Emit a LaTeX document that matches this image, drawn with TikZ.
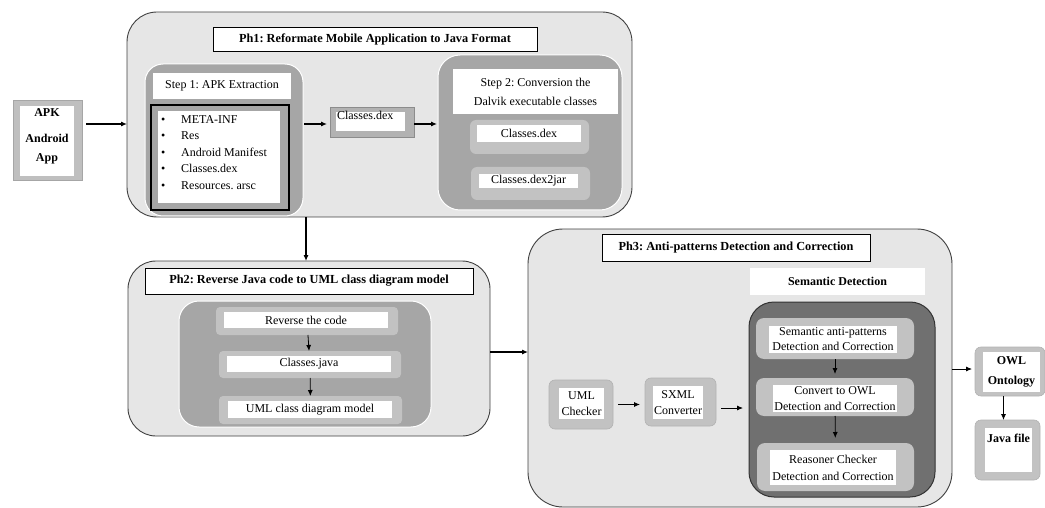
\documentclass[tikz,border=0pt]{standalone}
\usepackage{fontspec}
\setmainfont{Liberation Serif}
\frenchspacing
\usetikzlibrary{arrows.meta}
\definecolor{phgray}{HTML}{E6E6E6}
\definecolor{midgray}{HTML}{A6A6A6}
\definecolor{lightg}{HTML}{C2C2C2}
\definecolor{darkg}{HTML}{707070}
\newcommand\mkbox[7]{\node[#2, minimum width={(#5-#3)*1pt}, minimum height={(#6-#4)*1pt}] (#1) at ({(#3+#5)/2},{(#4+#6)/2}) {#7};}
\tikzset{
  every node/.style={inner sep=0pt, outer sep=0pt},
  phbox/.style={draw=black!75, fill=phgray, line width=0.9pt, rounded corners=30pt},
  stepbox/.style={draw=white, fill=midgray, line width=1pt, rounded corners=18pt},
  wbox/.style={fill=white, draw=none, align=center, font=\fontsize{12}{14}\selectfont},
  titlebox/.style={fill=white, draw=black, line width=0.8pt, font=\bfseries\fontsize{12.3}{14}\selectfont},
  lbox/.style={fill=lightg, draw=none, rounded corners=6pt},
  gbox/.style={fill=lightg, draw=black!30, line width=0.6pt, rounded corners=6pt},
  arr/.style={-{Latex[length=6pt,width=5pt]}, line width=1.1pt},
}
\begin{document}
\begin{tikzpicture}[x=1pt,y=-1pt]
\useasboundingbox (0,0) rectangle (1045,508);
% APK
\mkbox{apko}{fill=black!25, draw=black!35, line width=0.8pt}{13}{100}{82}{180}{}
\mkbox{apki}{fill=white}{20}{106}{74}{176}{}
\node[align=center, font=\bfseries\fontsize{12}{19}\selectfont] (apkt) at (47,136.5) {APK\\[7pt]Android\\App};
% Ph1
\mkbox{ph1}{phbox}{127}{12}{632}{217}{}
\mkbox{ph1t}{titlebox}{213}{27}{537}{51}{Ph1: Reformate Mobile Application to Java Format}
\mkbox{st1}{stepbox}{145}{64}{303}{216}{}
\mkbox{st1t}{wbox}{153}{73}{291}{99}{Step 1: APK Extraction}
\mkbox{lstf}{fill=midgray, draw=black, line width=1.3pt}{151}{105}{289}{210}{}
\mkbox{lstw}{fill=white}{158}{111}{280}{203}{}
\node[anchor=west, align=left, font=\fontsize{12}{16.5}\selectfont] (lstt) at (161,152.5)
  {\textbullet\hspace{16pt}META-INF\\\textbullet\hspace{16pt}Res\\\textbullet\hspace{16pt}Android Manifest\\\textbullet\hspace{16pt}Classes.dex\\\textbullet\hspace{16pt}Resources. arsc};
\mkbox{cdo}{fill=black!30, draw=black!45, line width=0.8pt}{330}{107}{414}{137}{}
\mkbox{cdi}{fill=white}{336}{112}{405}{131}{}
\node[anchor=north west, font=\fontsize{12}{14}\selectfont] (cdt) at (337,111) {Classes.dex};
\mkbox{st2}{stepbox, rounded corners=22pt}{438}{55}{622}{210}{}
\mkbox{st2t}{wbox, font=\fontsize{12}{19}\selectfont}{453}{69}{618}{114}{Step 2: Conversion the\\Dalvik executable classes}
\mkbox{c2o}{lbox}{470}{120}{589}{154}{}
\mkbox{c2i}{wbox}{477}{125}{581}{142}{Classes.dex}
\mkbox{j2o}{lbox}{471}{167}{590}{200}{}
\mkbox{j2i}{wbox}{479}{174}{578}{188}{Classes.dex2jar}
% Ph2
\mkbox{ph2}{phbox, rounded corners=28pt}{128}{261}{490}{436}{}
\mkbox{ph2t}{titlebox}{145}{268}{473}{294}{Ph2: Reverse Java code to UML class diagram model}
\mkbox{ph2g}{stepbox, rounded corners=20pt}{179}{301}{431}{427}{}
\mkbox{r1o}{lbox, rounded corners=4pt}{216}{307}{398}{335}{}
\mkbox{r1i}{wbox}{224}{312}{388}{328}{Reverse the code}
\mkbox{r2o}{lbox, rounded corners=4pt}{219}{351}{401}{378}{}
\mkbox{r2i}{wbox}{227}{356}{391}{372}{Classes.java}
\mkbox{r3o}{lbox, rounded corners=4pt}{219}{396}{402}{424}{}
\mkbox{r3i}{wbox}{228}{401}{392}{418}{UML class diagram model}
% Ph3
\mkbox{ph3}{phbox, rounded corners=35pt}{528}{229}{952}{507}{}
\mkbox{ph3t}{titlebox}{602}{234}{870}{261}{Ph3: Anti-patterns Detection and Correction}
\mkbox{semt}{wbox, font=\bfseries\fontsize{12}{14}\selectfont}{750}{268}{925}{295}{Semantic Detection}
\mkbox{dark}{fill=darkg, draw=black!80, line width=1pt, rounded corners=25pt}{749}{302}{935}{497}{}
\mkbox{s1o}{lbox, rounded corners=8pt}{756}{318}{914}{359}{}
\mkbox{s1i}{wbox, font=\fontsize{12}{15}\selectfont}{769}{326}{897}{353}{Semantic anti-patterns\\Detection and Correction}
\mkbox{s2o}{lbox, rounded corners=8pt}{756}{378}{914}{416}{}
\mkbox{s2i}{wbox, font=\fontsize{12}{16}\selectfont}{773}{385}{897}{412}{Convert to OWL\\Detection and Correction}
\mkbox{s3o}{lbox, rounded corners=8pt}{757}{443}{914}{491}{}
\mkbox{s3i}{wbox, font=\fontsize{12}{17}\selectfont}{770}{450}{896}{485}{Reasoner Checker\\Detection and Correction}
\mkbox{umlo}{gbox}{549}{380}{613}{429}{}
\mkbox{umli}{wbox, font=\fontsize{12}{16}\selectfont}{559}{388}{604}{419}{UML\\Checker}
\mkbox{sxo}{gbox}{645}{378}{716}{426}{}
\mkbox{sxi}{wbox, font=\fontsize{12}{16}\selectfont}{653}{386}{703}{419}{SXML\\Converter}
% outputs
\mkbox{owlo}{gbox}{975}{347}{1045}{396}{}
\mkbox{owli}{wbox, font=\bfseries\fontsize{12}{20}\selectfont}{983}{352}{1040}{392}{OWL\\Ontology}
\mkbox{jvo}{gbox}{975}{420}{1040}{480}{}
\mkbox{jvi}{fill=white}{985}{428}{1032}{472}{}
\node[anchor=north, font=\bfseries\fontsize{12}{14}\selectfont] (jvt) at (1008.5,434) {Java file};
% arrows
\draw[arr] ([xshift=4pt,yshift=16pt]apko.east) -- ([yshift=16pt]apko.east -| ph1.west);
\draw[arr, shorten <=1pt, shorten >=3pt] ([yshift=16pt]st1.east) -- ([yshift=16pt]st1.east -| cdo.west);
\draw[arr, shorten >=1pt] ([yshift=-2pt]cdo.east) -- ([yshift=-2pt]cdo.east -| st2.west);
\draw[arr] (ph2.north |- ph1.south) ++(-3,0) coordinate (a1) -- (a1 |- ph2.north);
\draw[arr, line width=0.8pt] (r1o) -- (r2o);
\draw[arr, line width=0.8pt] (r2o) -- (r3o);
\draw[arr] ([yshift=-3.5pt]ph2.east) -- ([yshift=-3.5pt]ph2.east -| ph3.west);
\draw[arr, line width=0.8pt, shorten <=5pt, shorten >=5pt] (umlo.east) -- (umlo.east -| sxo.west);
\draw[arr, line width=0.8pt, shorten <=5pt, shorten >=6pt] ([yshift=-6pt]sxo.east) -- ([yshift=-6pt]sxo.east -| dark.west);
\draw[arr, line width=0.8pt, shorten >=4pt] (s1o) -- (s2o);
\draw[arr, line width=0.8pt, shorten >=5pt] (s2o) -- (s3o);
\draw[arr, line width=0.8pt, shorten >=3pt] ([yshift=-1pt]ph3.east) -- ([yshift=-1pt]ph3.east -| owlo.west);
\draw[arr, line width=0.8pt] ([xshift=-4pt]jvo.north |- owlo.south) -- ([xshift=-4pt]jvo.north);
\end{tikzpicture}
\end{document}
